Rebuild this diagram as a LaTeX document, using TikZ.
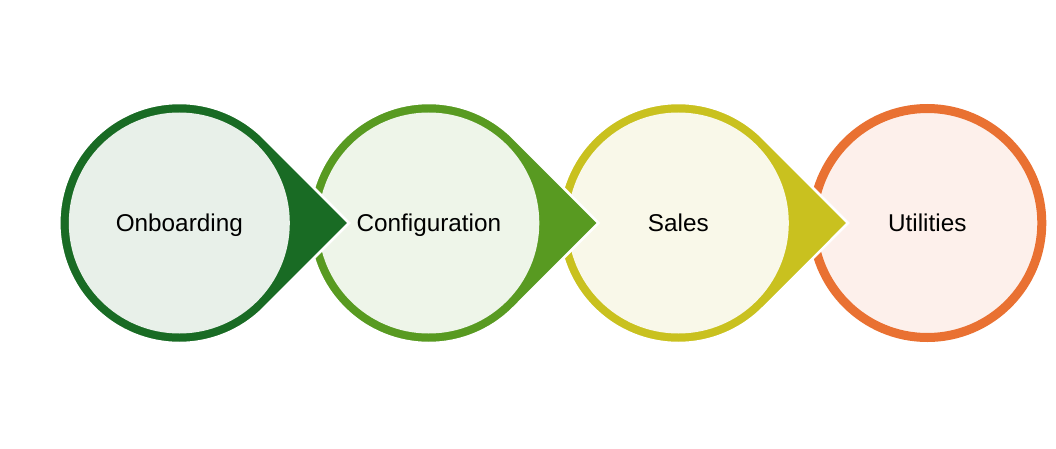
\documentclass[tikz,border=0pt]{standalone}
\usepackage{fontspec}
\setmainfont{Liberation Sans}
\definecolor{cO}{HTML}{196B24}
\definecolor{cOf}{HTML}{E8F0E9}
\definecolor{cC}{HTML}{589A21}
\definecolor{cCf}{HTML}{EEF5E9}
\definecolor{cS}{HTML}{C9C11F}
\definecolor{cSf}{HTML}{F9F8E9}
\definecolor{cU}{HTML}{E97132}
\definecolor{cUf}{HTML}{FDF0EB}
\begin{document}
\begin{tikzpicture}[x=1pt,y=1pt,
  lbl/.style={font=\fontsize{24.3}{29}\selectfont, anchor=base, text=black, inner sep=0pt},
  tear/.style={draw=white, line width=2.5pt}]
\useasboundingbox (0,0) rectangle (1056,448);
\fill[white] (0,0) rectangle (1056,448);
% Utilities (plain circle)
\fill[cUf] (927.3,225) circle[radius=115];
\draw[cU, line width=9pt] (927.3,225) circle[radius=114.5];
\node[lbl] (u) at (927.3,216.5) {Utilities};
% teardrop shapes, drawn right to left so each point overlaps the next circle
\foreach \cx/\st/\fl/\nm/\txt in {678.3/cS/cSf/s/Sales, 428.8/cC/cCf/c/Configuration, 179.3/cO/cOf/o/Onboarding}{
  \path[tear, fill=\st] (\cx+169.7,225) -- (\cx+84.85,309.85)
     arc[start angle=45, end angle=315, radius=120] -- cycle;
  \fill[\fl] (\cx,225) circle[radius=110.5];
  \node[lbl] (\nm) at (\cx,216.5) {\txt};
}
\end{tikzpicture}
\end{document}
